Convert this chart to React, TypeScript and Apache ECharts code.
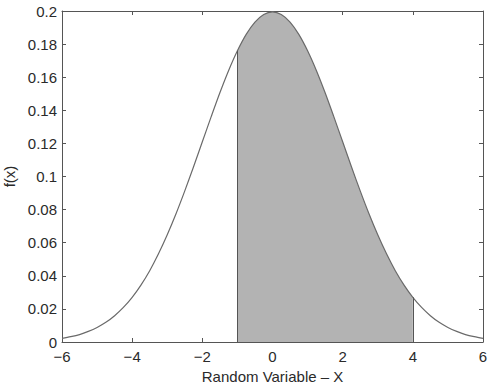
import React, { useEffect, useRef } from "react";
import * as echarts from "echarts";

// x positions (step 0.25) and density values
const xValues = [
  -6, -5.75, -5.5, -5.25, -5, -4.75, -4.5, -4.25, -4, -3.75, -3.5, -3.25, -3,
  -2.75, -2.5, -2.25, -2, -1.75, -1.5, -1.25, -1, -0.75, -0.5, -0.25, 0,
  0.25, 0.5, 0.75, 1, 1.25, 1.5, 1.75, 2, 2.25, 2.5, 2.75, 3, 3.25, 3.5,
  3.75, 4, 4.25, 4.5, 4.75, 5, 5.25, 5.5, 5.75, 6,
];
const fValues = [
  0.0022, 0.0032, 0.0045, 0.0064, 0.0088, 0.0119, 0.0159, 0.0209, 0.027,
  0.0344, 0.0431, 0.0533, 0.0648, 0.0775, 0.0913, 0.1059, 0.121, 0.136,
  0.1506, 0.1641, 0.176, 0.1859, 0.1933, 0.1979, 0.1995, 0.1979, 0.1933,
  0.1859, 0.176, 0.1641, 0.1506, 0.136, 0.121, 0.1059, 0.0913, 0.0775,
  0.0648, 0.0533, 0.0431, 0.0344, 0.027, 0.0209, 0.0159, 0.0119, 0.0088,
  0.0064, 0.0045, 0.0032, 0.0022,
];
const shadeFrom = -1;
const shadeTo = 4;
const xLabelName = "Random Variable – X";
const yLabelName = "f(x)";

export default function App() {
  const ref = useRef<HTMLDivElement>(null);
  useEffect(() => {
    if (!ref.current) return;
    const chart = echarts.init(ref.current, null, { renderer: "svg" });
    const curve = xValues.map((x, i) => [x, fValues[i]]);
    const shaded = curve.filter((p) => p[0] >= shadeFrom && p[0] <= shadeTo);
    const fAt = (x: number) => fValues[xValues.indexOf(x)];
    const font = "'Liberation Sans', Arial, sans-serif";
    const axisColor = "#555";
    const textColor = "#2a2a2a";
    const fs = 15;
    chart.setOption({
      animation: false,
      grid: {
        left: 62,
        top: 11,
        width: 421,
        height: 331,
        containLabel: false,
        outerBoundsMode: "none",
      },
      xAxis: [
        {
          type: "value",
          min: -6,
          max: 6,
          interval: 2,
          name: xLabelName,
          nameLocation: "middle",
          nameGap: 27,
          nameTextStyle: { fontFamily: font, fontSize: fs, color: textColor },
          axisLine: { show: true, onZero: false, lineStyle: { color: axisColor, width: 1 } },
          axisTick: { show: true, inside: true, length: 4, lineStyle: { color: axisColor } },
          axisLabel: {
            fontFamily: font,
            fontSize: fs,
            color: textColor,
            margin: 7,
            formatter: (v: number) => (v < 0 ? "−" + Math.abs(v) : String(v)),
          },
          splitLine: { show: false },
        },
        {
          type: "value",
          position: "top",
          min: -6,
          max: 6,
          interval: 2,
          axisLine: { show: true, onZero: false, lineStyle: { color: axisColor, width: 1 } },
          axisTick: { show: true, inside: true, length: 4, lineStyle: { color: axisColor } },
          axisLabel: { show: false },
          splitLine: { show: false },
        },
      ],
      yAxis: [
        {
          type: "value",
          min: 0,
          max: 0.2,
          interval: 0.02,
          name: yLabelName,
          nameLocation: "middle",
          nameGap: 43,
          nameRotate: 90,
          nameTextStyle: { fontFamily: font, fontSize: fs, color: textColor },
          axisLine: { show: true, onZero: false, lineStyle: { color: axisColor, width: 1 } },
          axisTick: { show: true, inside: true, length: 4, lineStyle: { color: axisColor } },
          axisLabel: {
            fontFamily: font,
            fontSize: fs,
            color: textColor,
            margin: 5,
            formatter: (v: number) => String(Math.round(v * 100) / 100),
          },
          splitLine: { show: false },
        },
        {
          type: "value",
          position: "right",
          min: 0,
          max: 0.2,
          interval: 0.02,
          axisLine: { show: true, onZero: false, lineStyle: { color: axisColor, width: 1 } },
          axisTick: { show: true, inside: true, length: 4, lineStyle: { color: axisColor } },
          axisLabel: { show: false },
          splitLine: { show: false },
        },
      ],
      series: [
        {
          type: "line",
          data: shaded,
          smooth: 0.3,
          symbol: "none",
          lineStyle: { width: 0 },
          areaStyle: { color: "#b3b3b3", opacity: 1 },
          z: 1,
          markLine: {
            silent: true,
            symbol: "none",
            label: { show: false },
            lineStyle: { color: "#555", type: "solid", width: 1 },
            data: [
              [
                { coord: [shadeFrom, 0] },
                { coord: [shadeFrom, fAt(shadeFrom)] },
              ],
              [
                { coord: [shadeTo, 0] },
                { coord: [shadeTo, fAt(shadeTo)] },
              ],
            ],
          },
        },
        {
          type: "line",
          data: curve,
          smooth: 0.3,
          symbol: "none",
          lineStyle: { color: "#6a6a6a", width: 1.2 },
          z: 3,
        },
      ],
    });
    return () => chart.dispose();
  }, []);
  return <div ref={ref} style={{ width: 495, height: 385, position: "absolute", left: 0, top: 0 }} />;
}
